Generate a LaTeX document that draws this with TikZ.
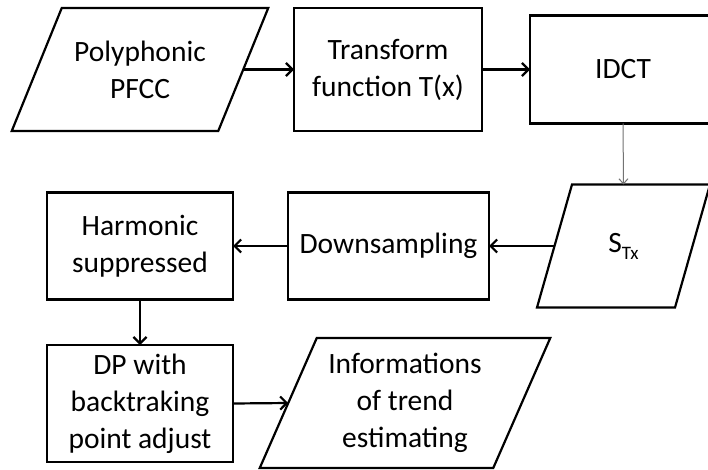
\documentclass[tikz,border=0pt]{standalone}
\usepackage{fontspec}
\setmainfont{Carlito}
\usetikzlibrary{arrows.meta}
\tikzset{
  boxline/.style={line width=2.2pt, draw=black, line join=miter},
  procbox/.style={boxline, rectangle, outer sep=0pt, inner sep=0pt, align=center,
    font=\fontsize{29.5}{37}\selectfont, text=black},
  parabox/.style={rectangle, draw=none, outer sep=0pt, inner sep=0pt, align=center,
    font=\fontsize{29.5}{37}\selectfont, text=black},
  arr/.style={line width=2.2pt, -{Straight Barb[length=6.5pt,width=13pt,line width=2.2pt]}},
  garr/.style={line width=1pt, draw=black!55, -{Straight Barb[length=5pt,width=9pt,line width=1pt]}}
}
\newcommand\paradraw[2]{\draw[boxline] ([xshift=#2]#1.north west) -- ([xshift=#2]#1.north east) -- ([xshift=-#2]#1.south east) -- ([xshift=-#2]#1.south west) -- cycle;}
\begin{document}
\begin{tikzpicture}[x=1pt,y=-1pt]
\useasboundingbox[fill=white] (0,0) rectangle (708,470);
% nodes
\node[parabox, minimum width=206.5pt, minimum height=123pt] (pp) at (140,69.5) {Polyphonic\\PFCC};
\paradraw{pp}{25pt}
\node[procbox, minimum width=188pt, minimum height=123pt] (tf) at (388,69.5) {Transform\\function T(x)};
\node[procbox, minimum width=186pt, minimum height=108pt] (idct) at (623,69.5) {IDCT};
\node[parabox, minimum width=138pt, minimum height=123pt] (stx) at (623.5,246) {S\raisebox{-0.24em}{\fontsize{19}{19}\selectfont Tx}};
\paradraw{stx}{17.5pt}
\node[procbox, minimum width=201pt, minimum height=107pt] (ds) at (388.5,246) {Downsampling};
\node[procbox, minimum width=186pt, minimum height=107pt] (hs) at (140,246) {Harmonic\\suppressed};
\node[procbox, minimum width=186pt, minimum height=117pt] (dp) at (140,403.5) {DP with\\backtraking\\point adjust};
\node[parabox, minimum width=233.5pt, minimum height=130pt] (inf) at (405,403) {Informations\\of trend\\estimating};
\paradraw{inf}{28.5pt}
% connectors
\draw[arr] (pp.east) -- (tf.west);
\draw[arr] (tf.east) -- (idct.west);
\draw[garr] (idct.south) -- (stx.north);
\draw[arr] (stx.west) -- (ds.east);
\draw[arr] (ds.west) -- (hs.east);
\draw[arr] (hs.south) -- (dp.north);
\draw[arr] (dp.east) -- (inf.west);
\end{tikzpicture}
\end{document}
